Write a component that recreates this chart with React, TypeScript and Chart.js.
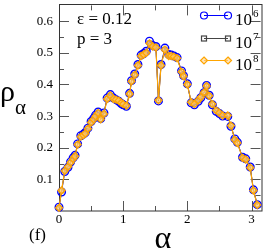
import React, { useEffect, useRef } from "react";
import { Chart, registerables } from "chart.js";

Chart.register(...registerables);

// α values (x) shared by all series
const alpha = [
  0, 0.04, 0.09, 0.14, 0.18, 0.22, 0.25, 0.29, 0.34, 0.38,
  0.41, 0.45, 0.5, 0.54, 0.57, 0.61, 0.65, 0.7, 0.75, 0.8,
  0.85, 0.89, 0.93, 0.97, 1.0, 1.05, 1.1, 1.13, 1.18, 1.23,
  1.28, 1.32, 1.36, 1.41, 1.46, 1.51, 1.55, 1.59, 1.65, 1.71,
  1.75, 1.79, 1.84, 1.91, 1.94, 2.0, 2.06, 2.11, 2.17, 2.21,
  2.26, 2.3, 2.34, 2.39, 2.45, 2.5, 2.55, 2.63, 2.68, 2.74,
  2.78, 2.86, 2.91, 2.98, 3.03, 3.09,
];

// ρ_α for N = 10^6 (blue circles)
const rho1e6 = [
  0.012, 0.06, 0.125, 0.138, 0.155, 0.168, 0.176, 0.212, 0.238, 0.243,
  0.248, 0.262, 0.283, 0.293, 0.303, 0.313, 0.292, 0.31, 0.357, 0.368,
  0.357, 0.352, 0.347, 0.34, 0.336, 0.331, 0.372, 0.412, 0.433, 0.463,
  0.493, 0.498, 0.505, 0.537, 0.523, 0.52, 0.348, 0.463, 0.515, 0.495,
  0.493, 0.49, 0.485, 0.443, 0.428, 0.402, 0.342, 0.336, 0.347, 0.358,
  0.374, 0.397, 0.366, 0.336, 0.315, 0.308, 0.3, 0.299, 0.268, 0.228,
  0.217, 0.17, 0.165, 0.139, 0.067, 0.02,
];

// ρ_α for N = 10^7 (black squares)
const rho1e7 = [
  0.01, 0.064, 0.127, 0.14, 0.153, 0.166, 0.174, 0.21, 0.235, 0.241,
  0.246, 0.26, 0.281, 0.29, 0.301, 0.31, 0.29, 0.308, 0.355, 0.366,
  0.354, 0.352, 0.348, 0.341, 0.337, 0.332, 0.37, 0.41, 0.431, 0.461,
  0.491, 0.496, 0.501, 0.531, 0.521, 0.518, 0.35, 0.461, 0.511, 0.491,
  0.49, 0.488, 0.483, 0.441, 0.427, 0.4, 0.344, 0.338, 0.349, 0.36,
  0.375, 0.395, 0.364, 0.338, 0.317, 0.31, 0.302, 0.301, 0.27, 0.226,
  0.215, 0.168, 0.163, 0.137, 0.065, 0.019,
];

// ρ_α for N = 10^8 (orange diamonds)
const rho1e8 = [
  0.01, 0.065, 0.127, 0.14, 0.153, 0.165, 0.173, 0.21, 0.235, 0.24,
  0.245, 0.26, 0.28, 0.29, 0.3, 0.31, 0.29, 0.307, 0.354, 0.365,
  0.354, 0.352, 0.349, 0.342, 0.338, 0.333, 0.37, 0.41, 0.43, 0.46,
  0.49, 0.495, 0.5, 0.53, 0.52, 0.517, 0.35, 0.46, 0.51, 0.49,
  0.49, 0.488, 0.483, 0.44, 0.426, 0.4, 0.344, 0.338, 0.35, 0.36,
  0.375, 0.395, 0.364, 0.338, 0.318, 0.31, 0.302, 0.302, 0.27, 0.225,
  0.215, 0.168, 0.163, 0.137, 0.065, 0.019,
];

const xMajorTicks = [0, 1, 2, 3];
const xMinorTicks = [0.5, 1.5, 2.5];
const yMajorTicks = [0.1, 0.2, 0.3, 0.4, 0.5, 0.6];
const yMinorTicks = [0.05, 0.15, 0.25, 0.35, 0.45, 0.55];
const legendExponents = ["6", "7", "8"];
const xMin = 0;
const xMax = 3.1416;
const yMin = 0;
const yMax = 0.65;

const SERIF = '"Liberation Serif", "Times New Roman", "DejaVu Serif", serif';

function toPoints(ys: number[]) {
  return alpha.map((a, i) => ({ x: a, y: ys[i] }));
}

const BLUE = "#0000ff";
const GRAY = "#444444";
const ORANGE = "#ffa500";

function drawMarker(ctx: CanvasRenderingContext2D, kind: number, x: number, y: number) {
  ctx.save();
  ctx.lineWidth = 1.2;
  if (kind === 0) {
    ctx.strokeStyle = BLUE;
    ctx.beginPath();
    ctx.arc(x, y, 3.5, 0, Math.PI * 2);
    ctx.stroke();
  } else if (kind === 1) {
    ctx.strokeStyle = GRAY;
    ctx.strokeRect(x - 2.5, y - 2.5, 5, 5);
  } else {
    ctx.strokeStyle = ORANGE;
    ctx.fillStyle = "rgba(255,210,140,0.6)";
    ctx.beginPath();
    ctx.moveTo(x, y - 3.5);
    ctx.lineTo(x + 3.5, y);
    ctx.lineTo(x, y + 3.5);
    ctx.lineTo(x - 3.5, y);
    ctx.closePath();
    ctx.fill();
    ctx.stroke();
  }
  ctx.restore();
}

const zeroPad = (s: any) => {
  s.paddingTop = 0;
  s.paddingBottom = 0;
  s.paddingLeft = 0;
  s.paddingRight = 0;
};

const framePlugin = {
  id: "frame",
  beforeDatasetsDraw(chart: any) {
    const { ctx, chartArea } = chart;
    const xs = chart.scales.x;
    const ys = chart.scales.y;
    const { left, right, top, bottom } = chartArea;
    ctx.save();
    ctx.strokeStyle = "#555";
    ctx.lineWidth = 1;
    const tick = (list: number[], len: number, vertical: boolean) => {
      list.forEach((v) => {
        if (vertical) {
          const px = Math.round(xs.getPixelForValue(v)) + 0.5;
          ctx.beginPath();
          ctx.moveTo(px, bottom);
          ctx.lineTo(px, bottom - len);
          ctx.moveTo(px, top);
          ctx.lineTo(px, top + len);
          ctx.stroke();
        } else {
          const py = Math.round(ys.getPixelForValue(v)) + 0.5;
          ctx.beginPath();
          ctx.moveTo(left, py);
          ctx.lineTo(left + len, py);
          ctx.moveTo(right, py);
          ctx.lineTo(right - len, py);
          ctx.stroke();
        }
      });
    };
    tick(xMajorTicks, 10, true);
    tick(xMinorTicks, 5, true);
    tick(yMajorTicks, 10, false);
    tick(yMinorTicks, 5, false);
    ctx.strokeStyle = "#333";
    ctx.strokeRect(Math.round(left) + 0.5, Math.round(top) - 0.5, Math.round(right - left) + 0.5, Math.round(bottom - top) + 0.5);
    ctx.restore();
  },
  afterDraw(chart: any) {
    const { ctx } = chart;
    ctx.save();
    ctx.fillStyle = "#000";
    ctx.textBaseline = "alphabetic";
    ctx.textAlign = "left";
    // y axis title ρ_α
    ctx.font = `30px ${SERIF}`;
    ctx.fillText("ρ", 0, 101);
    ctx.font = `21px ${SERIF}`;
    ctx.fillText("α", 15, 114);
    // x axis title α
    ctx.font = `32px ${SERIF}`;
    ctx.textAlign = "center";
    ctx.fillText("α", 163, 248);
    // panel label
    ctx.textAlign = "left";
    ctx.font = `17px ${SERIF}`;
    ctx.fillText("(f)", 29, 240);
    // annotations
    ctx.fillText("ε = 0.12", 77, 24);
    ctx.fillText("p = 3", 77, 44);
    // legend
    const rows = [15, 38, 60];
    const lineColors = [BLUE, GRAY, ORANGE];
    rows.forEach((ly, i) => {
      ctx.strokeStyle = lineColors[i];
      ctx.lineWidth = 1;
      ctx.beginPath();
      ctx.moveTo(204, ly + 0.5);
      ctx.lineTo(228, ly + 0.5);
      ctx.stroke();
      drawMarker(ctx, i, 204, ly + 0.5);
      drawMarker(ctx, i, 228, ly + 0.5);
      ctx.fillStyle = "#000";
      ctx.font = `17px ${SERIF}`;
      const tx = 235;
      const base = ly + 10;
      ctx.fillText("10", tx, base);
      const w = ctx.measureText("10").width;
      ctx.font = `11px ${SERIF}`;
      ctx.fillText(legendExponents[i], tx + w + 1, base - 8);
    });
    ctx.restore();
  },
};

export default function App() {
  const canvasRef = useRef<HTMLCanvasElement | null>(null);

  useEffect(() => {
    const canvas = canvasRef.current;
    if (!canvas) return;
    const chart = new Chart(canvas, {
      type: "scatter",
      data: {
        datasets: [
          {
            label: "10^8",
            data: toPoints(rho1e8),
            showLine: true,
            borderColor: ORANGE,
            borderWidth: 1.2,
            pointStyle: "rectRot",
            pointRadius: 3.6,
            pointBorderWidth: 1.2,
            pointBorderColor: ORANGE,
            pointBackgroundColor: "rgba(255,200,110,0.7)",
            clip: false,
            order: 0,
          },
          {
            label: "10^7",
            data: toPoints(rho1e7),
            showLine: true,
            borderColor: GRAY,
            borderWidth: 0.8,
            pointStyle: "rect",
            pointRadius: 3,
            pointBorderWidth: 1,
            pointBorderColor: GRAY,
            pointBackgroundColor: "rgba(0,0,0,0)",
            clip: false,
            order: 1,
          },
          {
            label: "10^6",
            data: toPoints(rho1e6),
            showLine: true,
            borderColor: BLUE,
            borderWidth: 1,
            pointStyle: "circle",
            pointRadius: 3.8,
            pointBorderWidth: 1.4,
            pointBorderColor: BLUE,
            pointBackgroundColor: "rgba(0,0,0,0)",
            clip: false,
            order: 2,
          },
        ] as any,
      },
      options: {
        responsive: false,
        animation: false,
        layout: { padding: { top: 1, right: 0, left: 0, bottom: 0 } },
        plugins: {
          legend: { display: false },
          tooltip: { enabled: false },
        },
        scales: {
          x: {
            type: "linear",
            position: "bottom",
            min: xMin,
            max: xMax,
            grid: { display: false, drawTicks: false },
            border: { display: false },
            ticks: {
              stepSize: 1,
              includeBounds: false,
              autoSkip: false,
              maxRotation: 0,
              padding: 1,
              color: "#000",
              font: { family: SERIF, size: 13 },
              callback: (v: any) => (xMajorTicks.includes(Number(v)) ? String(v) : ""),
            },
            afterFit: (s: any) => {
              s.height = 40;
              zeroPad(s);
            },
          },
          y: {
            type: "linear",
            min: yMin,
            max: yMax,
            grid: { display: false, drawTicks: false },
            border: { display: false },
            ticks: {
              stepSize: 0.1,
              includeBounds: false,
              autoSkip: false,
              padding: 6,
              color: "#000",
              font: { family: SERIF, size: 13 },
              callback: (v: any) => {
                const n = Number(v);
                const m = yMajorTicks.find((t) => Math.abs(t - n) < 1e-6);
                return m !== undefined ? m.toFixed(1) : "";
              },
            },
            afterFit: (s: any) => {
              s.width = 59;
              zeroPad(s);
            },
          },
        },
      } as any,
      plugins: [framePlugin],
    });
    return () => chart.destroy();
  }, []);

  return (
    <div style={{ position: "absolute", left: 0, top: 0, width: 266, height: 251, background: "#fff" }}>
      <canvas ref={canvasRef} width={266} height={251} style={{ display: "block" }} />
    </div>
  );
}
